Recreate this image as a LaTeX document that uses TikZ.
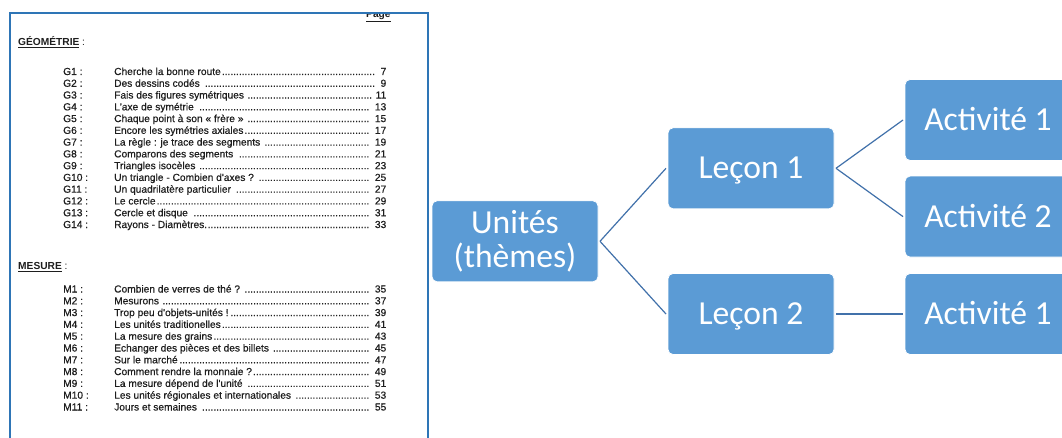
\documentclass[tikz,border=0pt]{standalone}
\usepackage{fontspec}
\setmainfont{Liberation Sans}
\newfontfamily\scanfont{Liberation Sans}[FakeBold=0.5]
\newfontfamily\calib{Carlito}
\definecolor{boxblue}{RGB}{91,155,213}
\definecolor{linkblue}{RGB}{65,113,170}
\definecolor{frameblue}{RGB}{46,117,182}
\definecolor{ink}{RGB}{30,30,30}
\tikzset{
  smart/.style={fill=boxblue, draw=white, line width=0.8pt, rounded corners=5pt,
    minimum width=166pt, minimum height=81pt, inner sep=0pt, outer sep=2pt,
    text=white, font=\calib\fontsize{33.6}{34}\selectfont, align=center},
  single/.style={text height=21pt, text depth=0pt},
  link/.style={draw=linkblue, line width=1.2pt},
  toc/.style={anchor=base west, inner sep=0pt, text=ink, font=\scanfont\fontsize{10.2}{12}\selectfont},
  tochead/.style={anchor=base west, inner sep=0pt, text=ink, font=\fontsize{10.2}{12}\selectfont},
  frame/.style={draw=frameblue, line width=2.3pt},
}
\newcommand\tocline[2]{\hbox to 272pt{#1\leaders\hbox{.}\hfill\ #2}}
\begin{document}
\begin{tikzpicture}[x=1pt,y=-1pt]
\clip (0,0) rectangle (1062,438);
\fill[white] (0,0) rectangle (1062,438);
% ---- scanned table of contents ----
\begin{scope}
  \clip (10,13) rectangle (428,460);
  \node[tochead] (page) at (366,17.5) {\bfseries\underline{Page}};
  \node[tochead] (geo) at (18,45.6) {{\bfseries\underline{GÉOMÉTRIE}} :};
  \foreach \lab/\ti/\pg [count=\i] in {
    G1/Cherche la bonne route/7,
    G2/Des dessins codés /9,
    G3/Fais des figures symétriques /11,
    G4/L'axe de symétrie /13,
    G5/Chaque point à son « frère » /15,
    G6/Encore les symétries axiales/17,
    G7/La règle : je trace des segments /19,
    G8/Comparons des segments /21,
    G9/Triangles isocèles /23,
    G10/Un triangle - Combien d'axes ? /25,
    G11/Un quadrilatère particulier /27,
    G12/Le cercle/29,
    G13/Cercle et disque /31,
    G14/Rayons - Diamètres./33}{
    \pgfmathsetmacro\yy{75+(\i-1)*11.77}
    \node[toc] (gl\i) at (63,\yy) {\lab\ :};
    \node[toc] (gt\i) at (114,\yy) {\tocline{\ti}{\pg}};
  }
  \node[tochead] (mes) at (18,269.6) {{\bfseries\underline{MESURE}} :};
  \foreach \lab/\ti/\pg [count=\i] in {
    M1/Combien de verres de thé ? /35,
    M2/Mesurons /37,
    M3/Trop peu d'objets-unités !/39,
    M4/Les unités traditionelles/41,
    M5/La mesure des grains/43,
    M6/Echanger des pièces et des billets /45,
    M7/Sur le marché/47,
    M8/Comment rendre la monnaie ?/49,
    M9/La mesure dépend de l'unité /51,
    M10/Les unités régionales et internationales /53,
    M11/Jours et semaines /55}{
    \pgfmathsetmacro\yy{292.5+(\i-1)*11.8}
    \node[toc] (ml\i) at (63,\yy) {\lab\ :};
    \node[toc] (mt\i) at (114,\yy) {\tocline{\ti}{\pg}};
  }
\end{scope}
\draw[frame] (10,13) rectangle (428,470);
% ---- hierarchy ----
\node[smart] (u) at (515,241.3) {Unités\\(thèmes)};
\node[smart,single] (l1) at (751,168.3) {Leçon 1};
\node[smart,single] (l2) at (751,314) {Leçon 2};
\node[smart,single] (a1) at (988,120) {Activité 1};
\node[smart,single] (a2) at (988,216.6) {Activité 2};
\node[smart,single] (a3) at (988,314) {Activité 1};
\draw[link] (u.east) -- (l1.west);
\draw[link] (u.east) -- (l2.west);
\draw[link] (l1.east) -- (a1.west);
\draw[link] (l1.east) -- (a2.west);
\draw[link] (l2.east) -- (a3.west);
\end{tikzpicture}
\end{document}
